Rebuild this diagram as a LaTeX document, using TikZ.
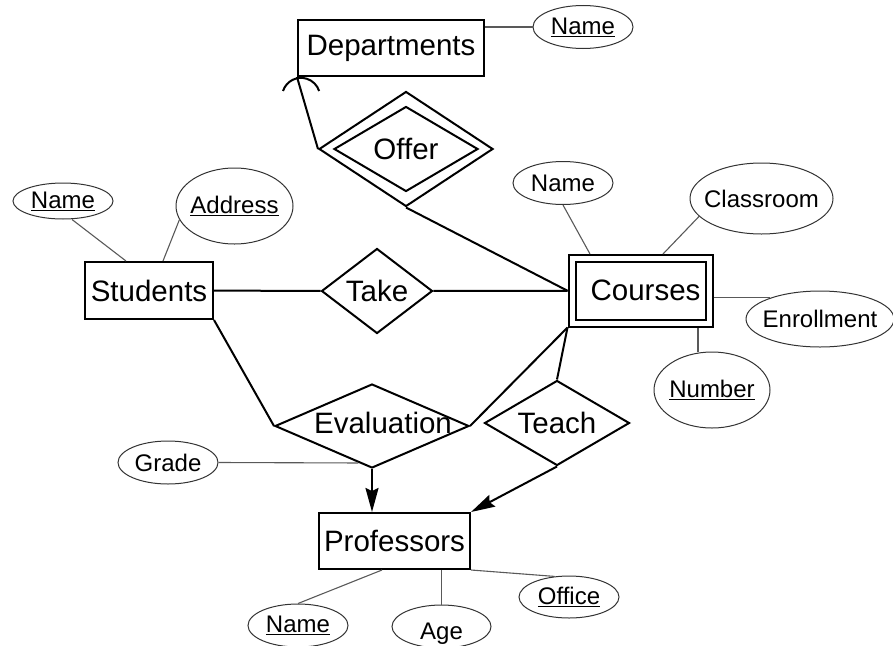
\documentclass[tikz,border=0pt]{standalone}
\usepackage{fontspec}
\setmainfont{Liberation Sans}
\usetikzlibrary{shapes.geometric,arrows.meta,calc}
\newcommand{\relfont}{\fontsize{29.5}{34}\selectfont}
\newcommand{\attrfont}{\fontsize{24}{28}\selectfont}
\tikzset{
 entity/.style={draw, line width=2pt, inner sep=0pt, font=\relfont},
 rel/.style={diamond, aspect=1.6, draw, line width=2pt, inner sep=0pt, font=\relfont},
 attr/.style={ellipse, draw=black!80, line width=1pt, inner sep=0pt},
 link/.style={line width=2pt},
 alink/.style={draw=black!65, line width=1.1pt}
}
\begin{document}
\begin{tikzpicture}[x=1pt, y=-1pt, font=\attrfont, >={Stealth[length=24pt,width=13pt,inset=3pt]}]
\useasboundingbox (0,0) rectangle (893,645);
 % entities
 \node[entity, minimum width=186, minimum height=56] (dept) at (391,48) {Departments};
 \node[entity, minimum width=128, minimum height=57] (stu) at (149,290.5) {Students};
 \node[entity, double, double distance=5pt, outer sep=4.5pt, minimum width=137, minimum height=64.5] (courses) at (640.5,290.75) {\hspace*{10pt}Courses};
 \node[entity, minimum width=151, minimum height=56] (prof) at (394.5,541) {Professors};
 % relationships
 \node[rel, minimum width=174, minimum height=115] (offerout) at (406,149) {};
 \node[rel, minimum width=144, minimum height=85] (offer) at (406,149) {Offer};
 \node[rel, minimum width=111, minimum height=85] (take) at (377,291) {Take};
 \node[rel, minimum width=194, minimum height=84, label={[xshift=11pt,yshift=3pt,font=\relfont]center:Evaluation}] (eval) at (372,426) {};
 \node[rel, minimum width=145, minimum height=85] (teach) at (557,423) {Teach};
 % attributes
 \node[attr, minimum width=100, minimum height=43, label={center:\underline{Name}}] (dname) at (583,27) {};
 \node[attr, minimum width=100, minimum height=36, label={center:\underline{Name}}] (sname) at (63,201) {};
 \node[attr, minimum width=117, minimum height=76, label={center:\underline{Address}}] (addr) at (234.5,206) {};
 \node[attr, minimum width=100, minimum height=43, label={center:Name}] (cname) at (563,183) {};
 \node[attr, minimum width=143, minimum height=71, label={center:Classroom}] (clroom) at (761.5,198.5) {};
 \node[attr, minimum width=148, minimum height=56, label={center:Enrollment}] (enroll) at (820,319) {};
 \node[attr, minimum width=116, minimum height=76, label={center:\underline{Number}}] (number) at (712,390) {};
 \node[attr, minimum width=100, minimum height=43, label={center:Grade}] (grade) at (168,462.5) {};
 \node[attr, minimum width=100, minimum height=43, label={center:\underline{Name}}] (pname) at (298,625.5) {};
 \node[attr, minimum width=99, minimum height=43, label={[yshift=-7pt]center:Age}] (age) at (441.5,626.5) {};
 \node[attr, minimum width=100, minimum height=42, label={center:\underline{Office}}] (office) at (569,597) {};

 \draw[link] (stu) -- (take);
 \draw[link] (take) -- (courses);
 \draw[link] (offerout.south) -- (courses.west);
 \draw[link] (dept.south west) -- (offerout.west);
 \draw[link] ([shift={(-14,14)}]dept.south west) arc[start angle=198, end angle=342, radius=19];
 \draw[link] (stu.south east) -- (eval.west);
 \draw[link] (courses.south west) -- (eval.east);
 \draw[link] (courses.south west) -- (teach.north);
 \draw[link,->] (eval.south) -- (eval.south |- prof.north);
 \draw[link,->] (teach.south) -- (prof.north east);

 \draw[alink] (dname.west -| dept.east) -- (dname.west);
 \draw[alink] ([xshift=9]sname.south) -- ([xshift=-23]stu.north);
 \draw[alink] (addr.194) -- ([xshift=14]stu.north);
 \draw[alink] (cname.south) -- ([xshift=-50.5]courses.north);
 \draw[alink] (clroom.196) -- ([xshift=22.5]courses.north);
 \draw[alink] (enroll.157 -| courses.east) -- (enroll.157);
 \draw[alink] ([xshift=-14]number.north) -- ([xshift=-14]number.north |- courses.south);
 \draw[alink] (grade.east) -- ($(eval.west)!0.86!(eval.south)$);
 \draw[alink] (pname.north) -- ([xshift=-12.5]prof.south);
 \draw[alink] (age.north) -- (age.north |- prof.south);
 \draw[alink] (office.125) -- (prof.south east);
\end{tikzpicture}
\end{document}
